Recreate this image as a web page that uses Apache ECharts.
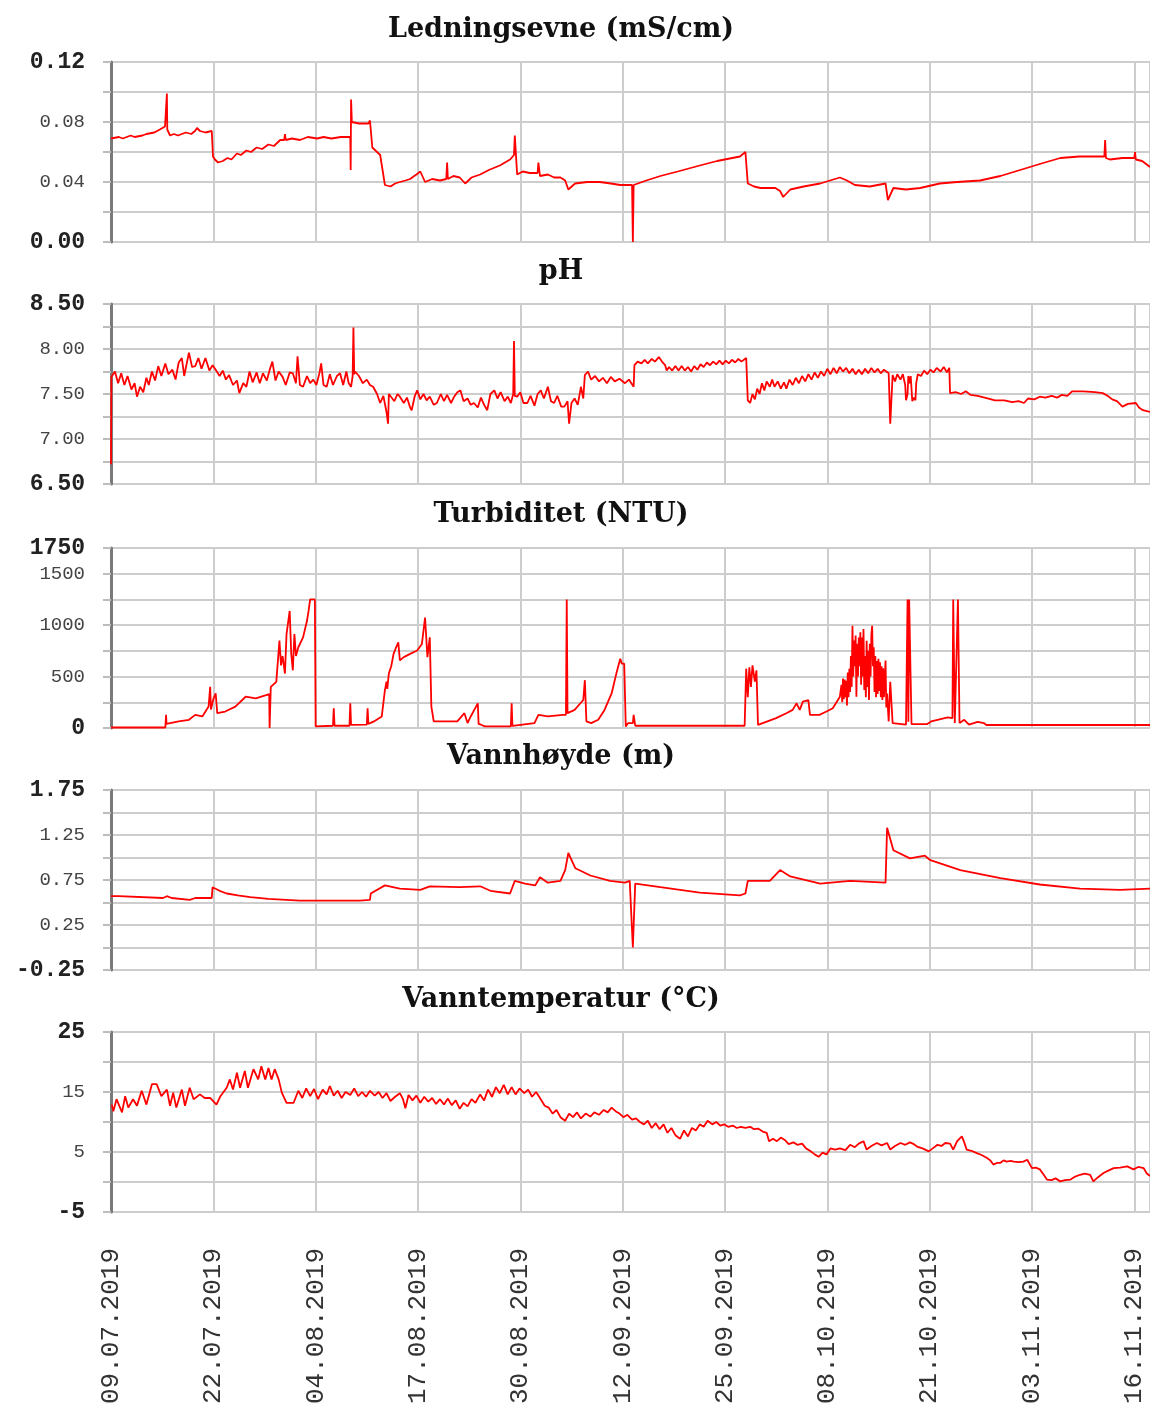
<!doctype html>
<html>
<head>
<meta charset="utf-8">
<title>Målestasjon</title>
<script src="https://cdn.jsdelivr.net/npm/echarts@6/dist/echarts.min.js"></script>
<style>
  html, body { margin: 0; padding: 0; background: #fff; }
  #chart { width: 1150px; height: 1407px; }
</style>
</head>
<body>
<div id="chart"></div>
<script>
// x = days since 09.07.2019
var dateLabels = ["09.07.2019", "22.07.2019", "04.08.2019", "17.08.2019", "30.08.2019", "12.09.2019",
  "25.09.2019", "08.10.2019", "21.10.2019", "03.11.2019", "16.11.2019"];

var titles = ["Ledningsevne (mS/cm)", "pH", "Turbiditet (NTU)", "Vannhøyde (m)", "Vanntemperatur (°C)"];

var ledTicks = ["0.12", "0.08", "0.04", "0.00"];
var phTicks = ["8.50", "8.00", "7.50", "7.00", "6.50"];
var turbTicks = ["1750", "1500", "1000", "500", "0"];
var waterTicks = ["1.75", "1.25", "0.75", "0.25", "-0.25"];
var tempTicks = ["25", "15", "5", "-5"];

var ledData = [[0, 0.069], [1, 0.070], [1.5, 0.069], [2.5, 0.071], [3, 0.070], [4, 0.071], [4.5, 0.072], [5.5, 0.073],
  [6.2, 0.075], [6.86, 0.077], [7.0, 0.078], [7.1, 0.099], [7.15, 0.075], [7.5, 0.071], [8.0, 0.072], [8.5, 0.071],
  [9.5, 0.073], [10.2, 0.072], [10.67, 0.074], [10.93, 0.076], [11.3, 0.074], [12.0, 0.073], [12.8, 0.074],
  [12.96, 0.057], [13.2, 0.055], [13.6, 0.053], [14.2, 0.054], [14.8, 0.056], [15.3, 0.055], [16.0, 0.059],
  [16.5, 0.058], [17.2, 0.061], [17.8, 0.060], [18.5, 0.063], [19.2, 0.062], [20, 0.065], [20.7, 0.064], [21.5, 0.068],
  [22.0, 0.068], [22.1, 0.072], [22.2, 0.068], [23.0, 0.069], [24.0, 0.068], [25.0, 0.070], [26.2, 0.069], [27.0, 0.070],
  [28, 0.069], [29.2, 0.070], [30.4, 0.070], [30.45, 0.048], [30.5, 0.095], [30.6, 0.080], [31.5, 0.079], [32.7, 0.079],
  [32.9, 0.081], [33.2, 0.063], [34.2, 0.058], [34.8, 0.038], [35.5, 0.037], [36.1, 0.039], [36.7, 0.040], [37.4, 0.041],
  [38, 0.042], [38.8, 0.045], [39.3, 0.047], [39.9, 0.040], [40.8, 0.042], [41.8, 0.041], [42.6, 0.042], [42.7, 0.053],
  [42.8, 0.042], [43.5, 0.044], [44.3, 0.043], [45.0, 0.039], [45.8, 0.043], [46.9, 0.045], [48.0, 0.048], [49.4, 0.051],
  [50.7, 0.055], [51.2, 0.058], [51.3, 0.071], [51.6, 0.045], [52.3, 0.047], [53.2, 0.046], [54.2, 0.046], [54.3, 0.053],
  [54.5, 0.044], [55.5, 0.045], [56.3, 0.043], [57.1, 0.043], [57.7, 0.041], [58.1, 0.035], [58.96, 0.039],
  [60.5, 0.040], [62.1, 0.040], [63.5, 0.039], [64.7, 0.038], [66.2, 0.038], [66.3, 0.0], [66.4, 0.038], [66.6, 0.039],
  [68.0, 0.041], [69.8, 0.044], [72.0, 0.047], [74.8, 0.051], [77.0, 0.054], [79.9, 0.057], [80.6, 0.060],
  [80.9, 0.039], [81.7, 0.037], [82.5, 0.036], [84.4, 0.036], [85.0, 0.034], [85.4, 0.030], [86.3, 0.035], [88.0, 0.037],
  [90.1, 0.039], [92.6, 0.043], [93.5, 0.041], [94.5, 0.038], [96.4, 0.037], [98.4, 0.039], [98.7, 0.028], [99.4, 0.036],
  [101.0, 0.035], [102.8, 0.036], [105.3, 0.039], [107.5, 0.040], [110.4, 0.041], [113.0, 0.044], [115.5, 0.048],
  [118.0, 0.052], [120.6, 0.056], [123.0, 0.057], [125.7, 0.057], [126.2, 0.057], [126.3, 0.068], [126.4, 0.056],
  [126.9, 0.055], [128.5, 0.056], [130.0, 0.056], [130.1, 0.060], [130.2, 0.055], [131.0, 0.054], [132.0, 0.050]];

var phData = [[0, 6.72], [0.05, 7.69], [0.5, 7.75], [0.9, 7.62], [1.3, 7.73], [1.7, 7.60], [2.1, 7.70], [2.6, 7.55], [3.0, 7.62],
  [3.3, 7.47], [3.7, 7.58], [4.1, 7.52], [4.5, 7.68], [4.8, 7.60], [5.2, 7.75], [5.6, 7.65], [6.0, 7.81], [6.4, 7.70],
  [6.9, 7.84], [7.3, 7.72], [7.8, 7.77], [8.2, 7.66], [8.6, 7.85], [9.0, 7.90], [9.3, 7.70], [9.9, 7.96], [10.3, 7.80],
  [10.7, 7.81], [11.1, 7.90], [11.5, 7.78], [12.0, 7.90], [12.5, 7.76], [12.9, 7.82], [13.3, 7.77], [13.8, 7.70],
  [14.2, 7.76], [14.6, 7.66], [15.0, 7.71], [15.5, 7.60], [16.0, 7.65], [16.3, 7.51], [16.8, 7.62], [17.2, 7.58],
  [17.6, 7.75], [18.0, 7.63], [18.5, 7.74], [18.9, 7.62], [19.3, 7.73], [19.8, 7.65], [20.2, 7.78], [20.5, 7.86],
  [20.9, 7.65], [21.3, 7.75], [21.8, 7.69], [22.2, 7.60], [22.7, 7.74], [23.1, 7.73], [23.5, 7.62], [23.7, 7.92],
  [24.0, 7.60], [24.4, 7.58], [24.9, 7.70], [25.3, 7.62], [25.7, 7.66], [26.1, 7.60], [26.5, 7.74], [26.7, 7.84],
  [27.0, 7.60], [27.4, 7.58], [27.8, 7.72], [28.2, 7.60], [28.7, 7.70], [29.1, 7.73], [29.5, 7.60], [29.9, 7.75],
  [30.2, 7.62], [30.5, 7.58], [30.7, 7.70], [30.8, 8.24], [30.9, 7.72], [31.0, 7.75], [31.5, 7.70], [32.0, 7.62],
  [32.5, 7.66], [32.9, 7.60], [33.3, 7.58], [33.8, 7.50], [34.2, 7.40], [34.6, 7.48], [35.0, 7.30], [35.2, 7.17],
  [35.3, 7.50], [35.5, 7.51], [36.0, 7.42], [36.4, 7.50], [36.7, 7.47], [37.2, 7.40], [37.6, 7.46], [38.0, 7.35],
  [38.2, 7.32], [38.6, 7.48], [38.9, 7.54], [39.3, 7.44], [39.7, 7.50], [40.1, 7.43], [40.5, 7.47], [41.0, 7.38],
  [41.4, 7.40], [41.9, 7.50], [42.3, 7.42], [42.7, 7.49], [43.2, 7.40], [43.6, 7.47], [44.0, 7.52], [44.4, 7.54],
  [44.8, 7.42], [45.3, 7.45], [45.7, 7.38], [46.1, 7.40], [46.6, 7.35], [47.0, 7.46], [47.4, 7.38], [47.8, 7.32],
  [48.2, 7.50], [48.7, 7.54], [49.1, 7.45], [49.5, 7.52], [50.0, 7.42], [50.4, 7.47], [50.8, 7.40], [51.1, 7.50],
  [51.2, 8.09], [51.3, 7.48], [51.6, 7.47], [52.0, 7.52], [52.4, 7.40], [52.9, 7.40], [53.3, 7.48], [53.8, 7.37],
  [54.2, 7.50], [54.6, 7.54], [55.0, 7.45], [55.5, 7.58], [55.9, 7.42], [56.3, 7.40], [56.7, 7.48], [57.2, 7.36],
  [57.6, 7.36], [58.0, 7.42], [58.2, 7.17], [58.5, 7.40], [58.9, 7.45], [59.3, 7.38], [59.7, 7.58], [60.0, 7.45],
  [60.2, 7.71], [60.6, 7.75], [61.0, 7.66], [61.5, 7.70], [62.0, 7.64], [62.5, 7.68], [63.0, 7.62], [63.5, 7.69],
  [64.0, 7.64], [64.6, 7.67], [65.3, 7.62], [65.8, 7.66], [66.4, 7.58], [66.5, 7.82], [66.9, 7.86], [67.4, 7.84],
  [67.8, 7.88], [68.2, 7.84], [68.7, 7.89], [69.1, 7.86], [69.6, 7.91], [70.0, 7.86], [70.4, 7.82], [70.6, 7.76],
  [70.9, 7.80], [71.3, 7.76], [71.7, 7.81], [72.1, 7.76], [72.5, 7.81], [72.9, 7.76], [73.3, 7.80], [73.7, 7.75],
  [74.1, 7.81], [74.5, 7.77], [74.9, 7.83], [75.3, 7.80], [75.7, 7.85], [76.1, 7.82], [76.5, 7.86], [76.9, 7.83],
  [77.3, 7.87], [77.7, 7.83], [78.1, 7.87], [78.5, 7.84], [78.9, 7.88], [79.3, 7.85], [79.7, 7.89], [80.1, 7.86],
  [80.7, 7.90], [80.9, 7.43], [81.2, 7.40], [81.5, 7.50], [81.8, 7.44], [82.1, 7.56], [82.4, 7.50], [82.7, 7.62],
  [83.0, 7.54], [83.3, 7.64], [83.7, 7.58], [84.0, 7.66], [84.3, 7.58], [84.7, 7.64], [85.1, 7.56], [85.5, 7.63],
  [85.8, 7.56], [86.2, 7.66], [86.6, 7.60], [87.0, 7.68], [87.4, 7.62], [87.8, 7.70], [88.2, 7.64], [88.6, 7.72],
  [89.0, 7.66], [89.4, 7.74], [89.8, 7.68], [90.2, 7.75], [90.6, 7.70], [91.0, 7.78], [91.4, 7.72], [91.8, 7.79],
  [92.2, 7.73], [92.6, 7.80], [93.0, 7.75], [93.4, 7.79], [93.8, 7.73], [94.2, 7.78], [94.6, 7.72], [95.0, 7.77],
  [95.4, 7.72], [95.8, 7.78], [96.2, 7.73], [96.6, 7.79], [97.0, 7.74], [97.4, 7.78], [97.8, 7.73], [98.2, 7.77],
  [98.8, 7.73], [99.0, 7.17], [99.3, 7.71], [99.6, 7.64], [99.9, 7.72], [100.3, 7.66], [100.6, 7.72], [100.9, 7.60],
  [101.0, 7.43], [101.2, 7.50], [101.3, 7.70], [101.5, 7.62], [101.6, 7.70], [101.8, 7.42], [102.0, 7.46],
  [102.2, 7.43], [102.3, 7.62], [102.5, 7.72], [102.9, 7.70], [103.3, 7.76], [103.7, 7.72], [104.1, 7.77],
  [104.5, 7.74], [104.9, 7.79], [105.4, 7.75], [105.8, 7.80], [106.2, 7.74], [106.5, 7.79], [106.6, 7.51],
  [107.3, 7.52], [108.0, 7.50], [108.6, 7.53], [109.2, 7.49], [110.1, 7.48], [111.0, 7.46], [112.3, 7.43],
  [113.5, 7.43], [114.5, 7.41], [115.3, 7.42], [116.0, 7.40], [116.5, 7.45], [117.3, 7.44], [118.0, 7.47],
  [118.7, 7.46], [119.5, 7.48], [120.2, 7.46], [120.8, 7.49], [121.5, 7.48], [122.1, 7.53], [123.5, 7.53],
  [125.0, 7.52], [126.0, 7.51], [126.6, 7.48], [127.2, 7.44], [127.8, 7.42], [128.5, 7.36], [129.2, 7.39],
  [130.2, 7.40], [130.6, 7.35], [131.1, 7.32], [132.0, 7.30]];

var turbData = [[0, 5], [6.9, 5], [7.0, 128], [7.05, 40], [7.3, 40], [8.6, 64], [9.9, 80], [10.7, 128], [11.6, 112],
  [12.4, 208], [12.6, 400], [12.7, 180], [12.8, 176], [13.0, 280], [13.3, 336], [13.5, 144], [14.5, 160], [15.8, 208],
  [17.1, 304], [18.4, 288], [19.7, 320], [20.1, 330], [20.15, 0], [20.25, 0], [20.3, 400], [21.0, 449], [21.4, 850],
  [21.6, 609], [21.8, 700], [22.1, 529], [22.3, 913], [22.7, 1138], [22.9, 721], [23.1, 561], [23.3, 913], [23.5, 700],
  [23.8, 785], [24.4, 881], [24.9, 1042], [25.1, 1138], [25.3, 1250], [25.9, 1250], [26.0, 16], [28.2, 22], [28.3, 192],
  [28.4, 22], [30.3, 22], [30.4, 240], [30.5, 30], [32.5, 32], [32.6, 192], [32.7, 40], [33.4, 64], [34.4, 112],
  [34.8, 369], [35.0, 450], [35.1, 380], [35.3, 529], [35.6, 600], [35.9, 721], [36.2, 780], [36.5, 833], [36.7, 657],
  [37.2, 689], [38.0, 721], [38.9, 753], [39.5, 817], [39.9, 1074], [40.2, 689], [40.5, 881], [40.7, 208], [41.0, 64],
  [44.0, 64], [44.9, 144], [45.3, 48], [45.7, 112], [46.6, 240], [46.7, 40], [47.0, 32], [47.5, 16], [50.8, 16],
  [50.9, 240], [51.0, 20], [53.8, 48], [54.3, 128], [55.5, 112], [57.4, 128], [57.8, 128], [57.9, 1250], [58.0, 144],
  [58.9, 176], [60.0, 272], [60.2, 465], [60.4, 64], [61.0, 48], [61.9, 80], [62.7, 176], [63.6, 336], [64.2, 529],
  [64.7, 673], [64.9, 625], [65.2, 625], [65.4, 16], [65.7, 48], [66.3, 48], [66.4, 128], [66.6, 22], [80.5, 22],
  [80.7, 577], [80.9, 300], [81.1, 590], [81.3, 400], [81.5, 609], [81.8, 450], [82.0, 560], [82.2, 30], [82.4, 48],
  [84.5, 96], [85.8, 144], [86.6, 176], [87.1, 240], [87.5, 176], [87.9, 256], [88.6, 272], [88.8, 128], [90.0, 128],
  [90.9, 160], [91.7, 192], [92.6, 304], [92.8, 420], [92.9, 250], [93.0, 481], [93.1, 280], [93.2, 470], [93.3, 300],
  [93.4, 460], [93.5, 220], [93.6, 540], [93.7, 300], [93.8, 577], [93.9, 350], [94.0, 700], [94.1, 400], [94.2, 994],
  [94.3, 500], [94.4, 850], [94.5, 600], [94.6, 900], [94.7, 304], [94.8, 820], [94.9, 500], [95.0, 880], [95.1, 600],
  [95.2, 930], [95.3, 420], [95.4, 880], [95.5, 500], [95.6, 962], [95.7, 369], [95.8, 700], [95.9, 300], [96.0, 849],
  [96.1, 400], [96.2, 750], [96.3, 272], [96.4, 820], [96.5, 500], [96.6, 900], [96.7, 994], [96.8, 600], [96.9, 785],
  [97.0, 350], [97.1, 700], [97.2, 300], [97.3, 650], [97.4, 330], [97.5, 673], [97.6, 360], [97.7, 640], [97.8, 300],
  [97.9, 600], [98.0, 272], [98.1, 580], [98.2, 300], [98.4, 657], [98.5, 200], [98.6, 336], [98.8, 64], [99.0, 449],
  [99.3, 48], [99.5, 32], [101.0, 32], [101.2, 1250], [101.3, 60], [101.4, 1250], [101.6, 1250], [101.7, 38],
  [103.7, 38], [104.2, 64], [105.0, 80], [106.3, 103], [106.9, 96], [107.0, 1250], [107.2, 48], [107.6, 1250],
  [107.8, 48], [108.4, 80], [109.0, 32], [110.1, 60], [110.9, 48], [111.2, 29], [132, 29]];

var waterData = [[0, 0.57], [1.0, 0.57], [1.1, 0.55], [6.6, 0.55], [6.7, 0.53], [7.1, 0.57], [7.7, 0.55], [10.0, 0.53],
  [10.7, 0.55], [12.8, 0.55], [12.9, 0.67], [13.8, 0.63], [14.7, 0.60], [16.1, 0.58], [17.7, 0.56], [20.0, 0.54],
  [24.0, 0.52], [31.6, 0.52], [32.9, 0.53], [33.0, 0.60], [34.8, 0.69], [36.7, 0.655], [39.3, 0.64], [40.5, 0.68],
  [44.3, 0.67], [46.9, 0.68], [48.2, 0.63], [50.7, 0.60], [51.3, 0.74], [52.6, 0.71], [53.9, 0.69], [54.5, 0.78],
  [55.5, 0.72], [57.1, 0.74], [57.7, 0.86], [58.1, 1.05], [59.0, 0.88], [60.9, 0.80], [63.4, 0.74], [65.3, 0.72],
  [65.9, 0.74], [66.3, 0.0], [66.6, 0.71], [69.8, 0.67], [74.8, 0.61], [79.9, 0.58], [80.6, 0.60], [80.9, 0.74],
  [83.7, 0.74], [85.0, 0.86], [86.3, 0.79], [90.1, 0.71], [93.9, 0.74], [98.4, 0.72], [98.6, 1.33], [99.4, 1.08],
  [101.5, 0.99], [103.4, 1.02], [104.1, 0.97], [107.9, 0.86], [113.0, 0.77], [118.0, 0.70], [123.1, 0.655],
  [128.2, 0.64], [132.0, 0.655]];

var tempData = [[0.1, 12.9], [0.3, 11.8], [0.7, 13.8], [1.4, 11.6], [1.8, 14.3], [2.2, 12.4], [2.8, 13.8], [3.3, 12.7],
  [3.9, 15.2], [4.5, 12.9], [5.2, 16.3], [5.8, 16.3], [6.4, 14.3], [7.1, 15.4], [7.5, 12.7], [7.9, 14.9], [8.3, 12.4],
  [9.0, 15.4], [9.4, 12.7], [10.0, 15.7], [10.5, 13.8], [11.3, 14.6], [11.9, 14.0], [12.6, 14.0], [13.4, 12.9],
  [13.9, 14.3], [14.7, 15.7], [15.1, 17.1], [15.5, 15.4], [16.0, 18.2], [16.4, 15.7], [17.0, 18.5], [17.4, 15.7],
  [18.1, 18.8], [18.7, 17.1], [19.1, 19.3], [19.6, 17.1], [20.0, 19.0], [20.4, 17.1], [20.8, 18.8], [21.3, 17.1],
  [21.7, 14.9], [22.3, 13.2], [23.2, 13.2], [23.8, 15.2], [24.3, 14.0], [24.8, 15.6], [25.3, 14.3], [25.8, 15.5],
  [26.3, 13.8], [26.9, 15.4], [27.4, 14.6], [27.8, 16.0], [28.3, 14.4], [28.8, 15.2], [29.3, 14.0], [29.8, 15.0],
  [30.4, 14.5], [30.9, 15.6], [31.4, 14.3], [31.9, 15.0], [32.4, 14.2], [32.9, 15.2], [33.5, 14.4], [34.0, 15.0],
  [34.5, 14.0], [35.0, 14.8], [35.5, 13.5], [36.1, 14.2], [36.7, 14.8], [37.1, 13.8], [37.4, 12.3], [37.8, 14.5],
  [38.3, 13.6], [38.8, 14.4], [39.3, 13.2], [39.8, 14.2], [40.3, 13.4], [40.8, 14.0], [41.3, 13.0], [41.8, 13.8],
  [42.3, 12.9], [42.8, 13.9], [43.3, 12.8], [43.8, 13.6], [44.3, 12.2], [44.8, 13.2], [45.3, 12.6], [45.8, 13.8],
  [46.3, 13.2], [46.9, 14.6], [47.4, 13.6], [47.9, 15.4], [48.4, 14.2], [48.9, 15.8], [49.4, 14.8], [49.9, 16.2],
  [50.4, 14.6], [50.9, 15.8], [51.4, 14.6], [51.9, 15.6], [52.5, 14.8], [53.0, 15.4], [53.5, 14.2], [54.0, 15.0],
  [54.5, 14.0], [55.1, 12.7], [55.6, 12.4], [56.1, 11.4], [56.6, 12.0], [57.1, 10.8], [57.7, 10.2], [58.2, 11.4],
  [58.7, 10.8], [59.2, 11.6], [59.7, 10.6], [60.3, 11.4], [60.9, 10.9], [61.4, 11.6], [62.0, 11.2], [62.6, 12.0],
  [63.1, 11.6], [63.6, 12.4], [64.1, 11.8], [64.6, 11.4], [65.1, 10.8], [65.6, 11.2], [66.2, 10.4], [66.7, 10.6],
  [67.2, 10.0], [67.7, 9.6], [68.2, 10.2], [68.7, 9.0], [69.2, 9.8], [69.7, 8.8], [70.2, 9.6], [70.7, 8.2],
  [71.2, 9.0], [71.7, 7.8], [72.3, 7.2], [72.8, 8.6], [73.3, 7.6], [73.8, 9.0], [74.3, 8.6], [74.8, 9.6], [75.3, 9.2],
  [75.8, 10.2], [76.4, 9.6], [76.9, 10.0], [77.4, 9.4], [77.9, 9.6], [78.4, 9.2], [79.0, 9.4], [79.5, 9.0], [80.0, 9.2],
  [80.6, 9.0], [81.2, 9.2], [81.7, 8.8], [82.2, 8.9], [82.8, 8.4], [83.3, 8.2], [83.6, 6.8], [84.1, 7.2], [84.6, 6.8],
  [85.1, 7.4], [85.6, 7.0], [86.1, 6.3], [86.7, 6.6], [87.2, 6.2], [87.8, 6.4], [88.3, 5.6], [88.8, 5.2], [89.4, 4.6],
  [89.9, 4.2], [90.4, 4.9], [90.9, 4.6], [91.4, 5.6], [92.0, 5.4], [92.6, 5.6], [93.3, 5.3], [93.9, 6.2], [94.5, 5.8],
  [95.0, 6.4], [95.6, 6.8], [96.0, 5.4], [96.6, 6.0], [97.3, 6.5], [97.9, 6.1], [98.6, 6.5], [99.0, 5.4], [99.6, 6.0],
  [100.3, 6.5], [100.9, 6.2], [101.5, 6.6], [102.0, 6.3], [102.4, 5.9], [103.1, 5.6], [103.9, 5.1], [104.4, 5.6],
  [105.0, 6.2], [105.5, 6.0], [106.0, 6.5], [106.6, 6.4], [107.0, 5.4], [107.5, 6.8], [108.1, 7.6], [108.4, 6.6],
  [108.7, 5.4], [109.3, 5.2], [110.0, 4.8], [110.6, 4.5], [111.3, 4.0], [111.7, 3.6], [112.1, 2.9], [112.6, 3.2],
  [113.0, 3.2], [113.4, 3.6], [113.8, 3.4], [114.3, 3.5], [114.7, 3.4], [115.3, 3.3], [115.9, 3.4], [116.4, 3.7],
  [117.0, 2.3], [117.5, 2.4], [118.0, 2.1], [118.5, 1.2], [118.9, 0.4], [119.5, 0.3], [120.0, 0.6], [120.6, 0.1],
  [121.2, 0.3], [121.9, 0.4], [122.5, 0.9], [123.1, 1.2], [123.7, 1.4], [124.4, 1.2], [124.8, 0.1], [125.4, 0.8],
  [126.1, 1.5], [126.7, 1.9], [127.4, 2.3], [128.2, 2.4], [129.1, 2.6], [129.9, 2.1], [130.5, 2.5], [131.2, 2.3],
  [131.6, 1.4], [132.0, 1.0]];

var panels = [
  { data: ledData, ticks: ledTicks, min: 0, max: 0.12, step: 0.02, digits: 2 },
  { data: phData, ticks: phTicks, min: 6.5, max: 8.5, step: 0.25, digits: 2 },
  { data: turbData, ticks: turbTicks, min: 0, max: 1750, step: 250, digits: 0 },
  { data: waterData, ticks: waterTicks, min: -0.25, max: 1.75, step: 0.25, digits: 2 },
  { data: tempData, ticks: tempTicks, min: -5, max: 25, step: 5, digits: 0 }
];
var tops = [62, 304, 548, 790, 1032];
var titleY = [30, 272, 515, 757, 1000];

var chart = echarts.init(document.getElementById("chart"));

function labelFormatter(p) {
  return function (value) {
    var text = value.toFixed(p.digits);
    if (text === "-0") text = "0";
    if (p.ticks.indexOf(text) < 0) return "";
    if (Math.abs(value - p.min) < 1e-9 || Math.abs(value - p.max) < 1e-9) return "{b|" + text + "}";
    return text;
  };
}

var grids = [], xAxes = [], yAxes = [], series = [], graphics = [];
for (var i = 0; i < panels.length; i++) {
  var p = panels[i];
  var last = i === panels.length - 1;
  grids.push({
    left: 111, right: -2, top: tops[i], height: 180,
    show: true, borderColor: "#8a8a8a", borderWidth: 2, backgroundColor: "#fff"
  });
  xAxes.push({
    type: "value", gridIndex: i, min: 0, max: 132, interval: 13,
    axisLine: { show: false },
    axisTick: { show: false },
    splitLine: { show: true, lineStyle: { color: "#cdcdcd", width: 2 } },
    axisLabel: {
      show: last, rotate: 90, margin: 36,
      fontFamily: "Liberation Mono", fontSize: 26, color: "#333",
      showMaxLabel: false,
      formatter: function (v) {
        return v % 13 === 0 ? dateLabels[v / 13] : "";
      }
    }
  });
  yAxes.push({
    type: "value", gridIndex: i, min: p.min, max: p.max, interval: p.step,
    axisLine: { show: true, onZero: false, lineStyle: { color: "#7a7a7a", width: 3 } },
    axisTick: { show: true, length: 8, lineStyle: { color: "#bdbdbd", width: 2 } },
    splitLine: { show: true, lineStyle: { color: "#cdcdcd", width: 2 } },
    axisLabel: {
      margin: 26, fontFamily: "Liberation Mono", fontSize: 19, color: "#444",
      formatter: labelFormatter(p),
      rich: { b: { fontFamily: "Liberation Mono", fontWeight: "bold", fontSize: 23, color: "#222" } }
    }
  });
  series.push({
    type: "line", xAxisIndex: i, yAxisIndex: i, data: p.data,
    showSymbol: false, symbol: "none", animation: false,
    lineStyle: { color: "#ff0000", width: 1.8 }
  });
  graphics.push({
    type: "text", x: 561, y: titleY[i],
    style: {
      text: titles[i], textAlign: "center", textVerticalAlign: "middle",
      font: "bold 27px 'DejaVu Serif'", fill: "#111"
    }
  });
}

chart.setOption({
  animation: false,
  grid: grids,
  xAxis: xAxes,
  yAxis: yAxes,
  series: series,
  graphic: graphics
});
</script>
</body>
</html>
